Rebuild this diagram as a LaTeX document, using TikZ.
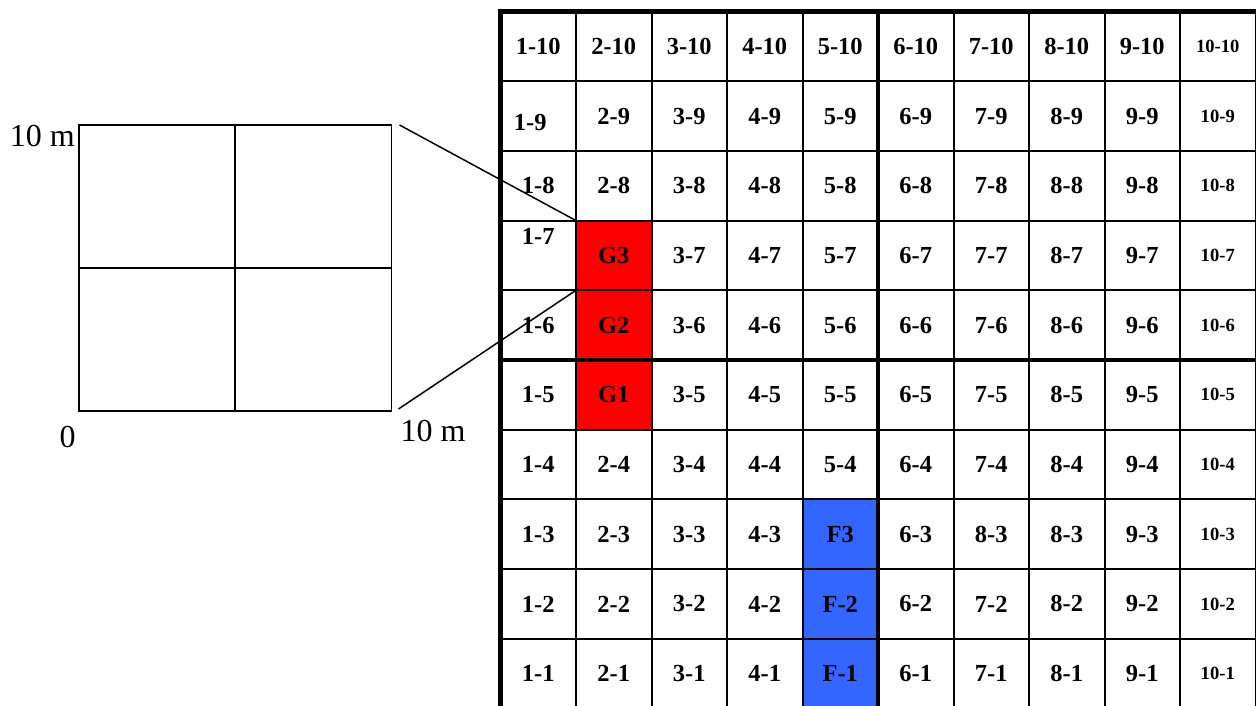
\documentclass[tikz,border=0pt]{standalone}
\usepackage{fontspec}
\setmainfont{Liberation Serif}
\usetikzlibrary{calc,positioning}
\definecolor{gred}{RGB}{255,0,0}
\definecolor{fblue}{RGB}{51,102,255}

\begin{document}
\begin{tikzpicture}[x=1pt, y=-1pt, line width=2pt]
  \tikzstyle{cell}=[draw, rectangle, minimum width=75.5pt, minimum height=69.7pt, inner sep=0pt, outer sep=0pt]
  \tikzstyle{lbl}=[inner sep=0pt, font=\fontsize{24.5}{24.5}\selectfont\bfseries]
  \tikzstyle{small}=[inner sep=0pt, font=\fontsize{18.6}{18.6}\selectfont\bfseries]
  \tikzstyle{border}=[line width=4.5pt]
  \tikzstyle{axis}=[inner sep=0pt, font=\fontsize{32}{32}\selectfont]
  \tikzstyle{zoom}=[line width=1.5pt]

  \clip (0,0) rectangle (1256,706);

  % plot area on the left
  \node[draw, rectangle, line width=1.6pt, minimum width=312.8pt, minimum height=286pt, inner sep=0pt, outer sep=0pt] (plot) at (235.1,268) {};
  \draw[line width=1.6pt] (plot.north) -- (plot.south);
  \draw[line width=1.6pt] (plot.west) -- (plot.east);

  \node[axis, anchor=base east] (ytop) at ([xshift=-3pt, yshift=-21.7pt]plot.north west) {10 m};
  \node[axis, anchor=base] (orig) at ([xshift=-11pt, yshift=-36pt]plot.south west) {0};
  \node[axis, anchor=base west] (xright) at ([xshift=8pt, yshift=-30pt]plot.south east) {10 m};

  % grid of cells
  \foreach \i in {1,...,10}
    \foreach \j in {1,...,10}
      \node[cell] (c-\i-\j) at ({462.75+75.5*\i}, {11.5+69.7*(10.5-\j)}) {};

  % coloured cells
  \node[cell, lbl, fill=gred] (G3) at (c-2-7) {G3};
  \node[cell, lbl, fill=gred] (G2) at (c-2-6) {G2};
  \node[cell, lbl, fill=gred] (G1) at (c-2-5) {G1};
  \node[cell, lbl, fill=fblue] (F3) at (c-5-3) {F3};
  \node[cell, lbl, fill=fblue] (F2) at (c-5-2) {F-2};
  \node[cell, lbl, fill=fblue] (F1) at (c-5-1) {F-1};

  % cell labels
  \foreach \i in {2,...,9}
    \foreach \j in {1,...,10}
    {
      \pgfmathtruncatemacro{\skipcell}{(\i==2 && \j>4 && \j<8) || (\i==5 && \j<4) || (\i==7 && \j==3)}
      \ifnum\skipcell=0 \node[lbl] (t-\i-\j) at (c-\i-\j) {\i-\j}; \fi
    }
  \node[lbl] (t-7-3) at (c-7-3) {8-3};

  \foreach \j in {1,...,6,8,10}
    \node[lbl] (t-1-\j) at (c-1-\j) {1-\j};
  \node[lbl, xshift=-8pt, yshift=-6pt] (t-1-9) at (c-1-9) {1-9};
  \node[lbl, yshift=19pt] (t-1-7) at (c-1-7) {1-7};

  \foreach \j in {1,...,10}
    \node[small] (t-10-\j) at (c-10-\j) {10-\j};

  % heavy lines
  \draw[border] (c-1-10.north west) -- (c-1-1.south west);
  \draw[border] ([xshift=-2.25pt]c-1-10.north west) -- (c-10-10.north east);
  \draw[border] (c-5-10.north east) -- (c-5-1.south east);
  \draw[border] (c-1-5.north west) -- (c-10-5.north east);

  % zoom lines
  \coordinate[right=8pt of plot.north east] (zt);
  \coordinate[right=7pt of plot.south east, yshift=2pt] (zb);
  \draw[zoom] (zt) -- (c-2-7.north west);
  \draw[zoom] (zb) -- (c-2-7.south west);
\end{tikzpicture}
\end{document}
